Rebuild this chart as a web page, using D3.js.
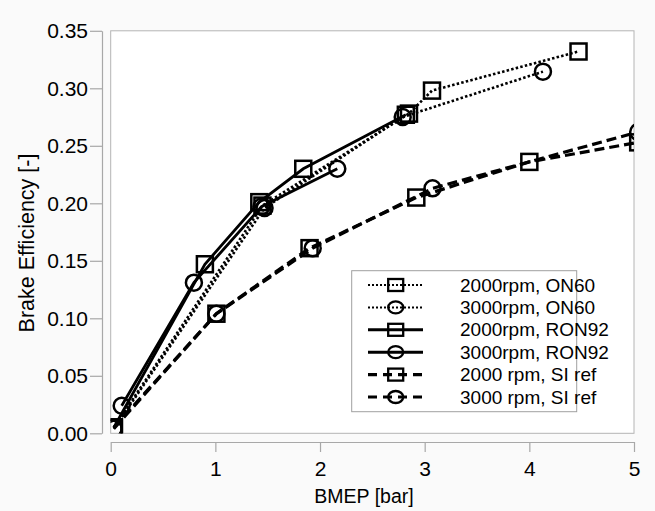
<!DOCTYPE html>
<html><head><meta charset="utf-8">
<script src="https://cdn.jsdelivr.net/npm/d3@7"></script>
<style>
html,body{margin:0;padding:0;background:#fafafa;}
svg{display:block;font-family:"Liberation Sans",Arial,sans-serif;}
</style></head>
<body>
<svg id="c" width="655" height="511"></svg>
<script>
// ---- data ----
const xTicks = [0, 1, 2, 3, 4, 5];
const yTicks = [0.00, 0.05, 0.10, 0.15, 0.20, 0.25, 0.30, 0.35];
const seriesNames = ["2000rpm, ON60", "3000rpm, ON60", "2000rpm, RON92", "3000rpm, RON92", "2000 rpm, SI ref", "3000 rpm, SI ref"];
const on60_2000_x = [0.03, 1.45, 2.85, 3.07, 4.47];
const on60_2000_y = [0.005, 0.198, 0.278, 0.298, 0.332];
const on60_3000_x = [0.03, 1.47, 2.79, 4.13];
const on60_3000_y = [0.004, 0.196, 0.275, 0.3145];
const ron92_2000_x = [0.03, 0.90, 1.42, 1.84, 2.82];
const ron92_2000_y = [0.005, 0.147, 0.201, 0.230, 0.277];
const ron92_3000_x = [0.105, 0.795, 1.44, 2.165];
const ron92_3000_y = [0.024, 0.131, 0.197, 0.230];
const si_2000_x = [0.03, 1.01, 1.90, 2.92, 4.00, 5.04];
const si_2000_y = [0.005, 0.104, 0.161, 0.205, 0.236, 0.253];
const si_3000_x = [0.03, 1.01, 1.93, 3.075, 5.04];
const si_3000_y = [0.004, 0.104, 0.161, 0.213, 0.262];

const seriesX = [on60_2000_x, on60_3000_x, ron92_2000_x, ron92_3000_x, si_2000_x, si_3000_x];
const seriesY = [on60_2000_y, on60_3000_y, ron92_2000_y, ron92_3000_y, si_2000_y, si_3000_y];
const markers = ["square", "circle", "square", "circle", "square", "circle"];
const styles = ["dot", "dot", "solid", "solid", "dash", "dash"];

// ---- layout ----
const svg = d3.select("#c");
const L = 110.7, R = 634, T = 30.8, B = 433.3;
const x = d3.scaleLinear().domain([0, 5]).range([L, R]);
const y = d3.scaleLinear().domain([0, 0.35]).range([B, T]);
const axisCol = "#a8a8a8";

// plot area
svg.append("rect").attr("x", L).attr("y", T).attr("width", R - L).attr("height", B - T)
  .attr("fill", "#fff").attr("stroke", "#b4b4b4").attr("stroke-width", 1);

svg.append("clipPath").attr("id", "clip").append("rect")
  .attr("x", L).attr("y", T).attr("width", R - L).attr("height", B - T);

// y axis (offset to the left)
const yAxis = svg.append("g").attr("transform", "translate(102,0)")
  .call(d3.axisLeft(y).tickValues(yTicks).tickFormat(d3.format(".2f")).tickSize(12).tickSizeOuter(0).tickPadding(2));
// x axis (offset below)
const xAxis = svg.append("g").attr("transform", "translate(0,442)")
  .call(d3.axisBottom(x).tickValues(xTicks).tickFormat(d3.format("d")).tickSize(10).tickSizeOuter(0).tickPadding(9));
[yAxis, xAxis].forEach(g => {
  g.select(".domain").attr("stroke", axisCol).attr("stroke-width", 1.2);
  g.selectAll(".tick line").attr("stroke", axisCol).attr("stroke-width", 1.2);
  g.selectAll(".tick text").attr("fill", "#000").style("font-size", "21px")
    .style("font-family", "'Liberation Sans', Arial, sans-serif");
});

// axis titles
svg.append("text").attr("x", 364).attr("y", 503).attr("text-anchor", "middle")
  .style("font-size", "19.5px").text("BMEP [bar]");
svg.append("text").attr("transform", "translate(34,243) rotate(-90)").attr("text-anchor", "middle")
  .style("font-size", "21.5px").text("Brake Efficiency [-]");

function applyStyle(sel, st, legend) {
  if (st === "dot") sel.attr("stroke-width", legend ? 2 : 2.6).attr("stroke-dasharray", legend ? "2,2" : "2.5,2.2");
  else if (st === "solid") sel.attr("stroke-width", legend ? 3 : 2.8);
  else sel.attr("stroke-width", 3.2).attr("stroke-dasharray", legend ? "9,6" : "10,5");
  return sel;
}
function drawMarker(g, type, cx, cy, w, h, sw) {
  if (type === "square") {
    g.append("rect").attr("x", cx - w / 2).attr("y", cy - h / 2).attr("width", w).attr("height", h)
      .attr("fill", "none").attr("stroke", "#000").attr("stroke-width", sw);
  } else {
    g.append("ellipse").attr("cx", cx).attr("cy", cy).attr("rx", w / 2).attr("ry", h / 2)
      .attr("fill", "none").attr("stroke", "#000").attr("stroke-width", sw);
  }
}

const plot = svg.append("g").attr("clip-path", "url(#clip)");
const line = d3.line().x(d => x(d[0])).y(d => y(d[1]));
seriesX.forEach((xs, i) => {
  const pts = xs.map((v, j) => [v, seriesY[i][j]]);
  const p = plot.append("path").datum(pts).attr("d", line).attr("fill", "none").attr("stroke", "#000");
  applyStyle(p, styles[i], false);
  pts.forEach(d => drawMarker(plot, markers[i], x(d[0]), y(d[1]), 16, 16, 2.5));
});

// legend
const lg = svg.append("g");
lg.append("rect").attr("x", 351.7).attr("y", 270.7).attr("width", 225).attr("height", 141)
  .attr("fill", "#fff").attr("stroke", "#a0a0a0").attr("stroke-width", 1);
seriesNames.forEach((name, i) => {
  const cy = 285 + i * 22.4;
  const l = lg.append("line").attr("x1", 368).attr("x2", 423).attr("y1", cy).attr("y2", cy).attr("stroke", "#000");
  applyStyle(l, styles[i], true);
  drawMarker(lg, markers[i], 395.7, cy, 15, 12, 2.3);
  lg.append("text").attr("x", 460).attr("y", cy + 6.5).style("font-size", "19px").text(name);
});
</script>
</body></html>
